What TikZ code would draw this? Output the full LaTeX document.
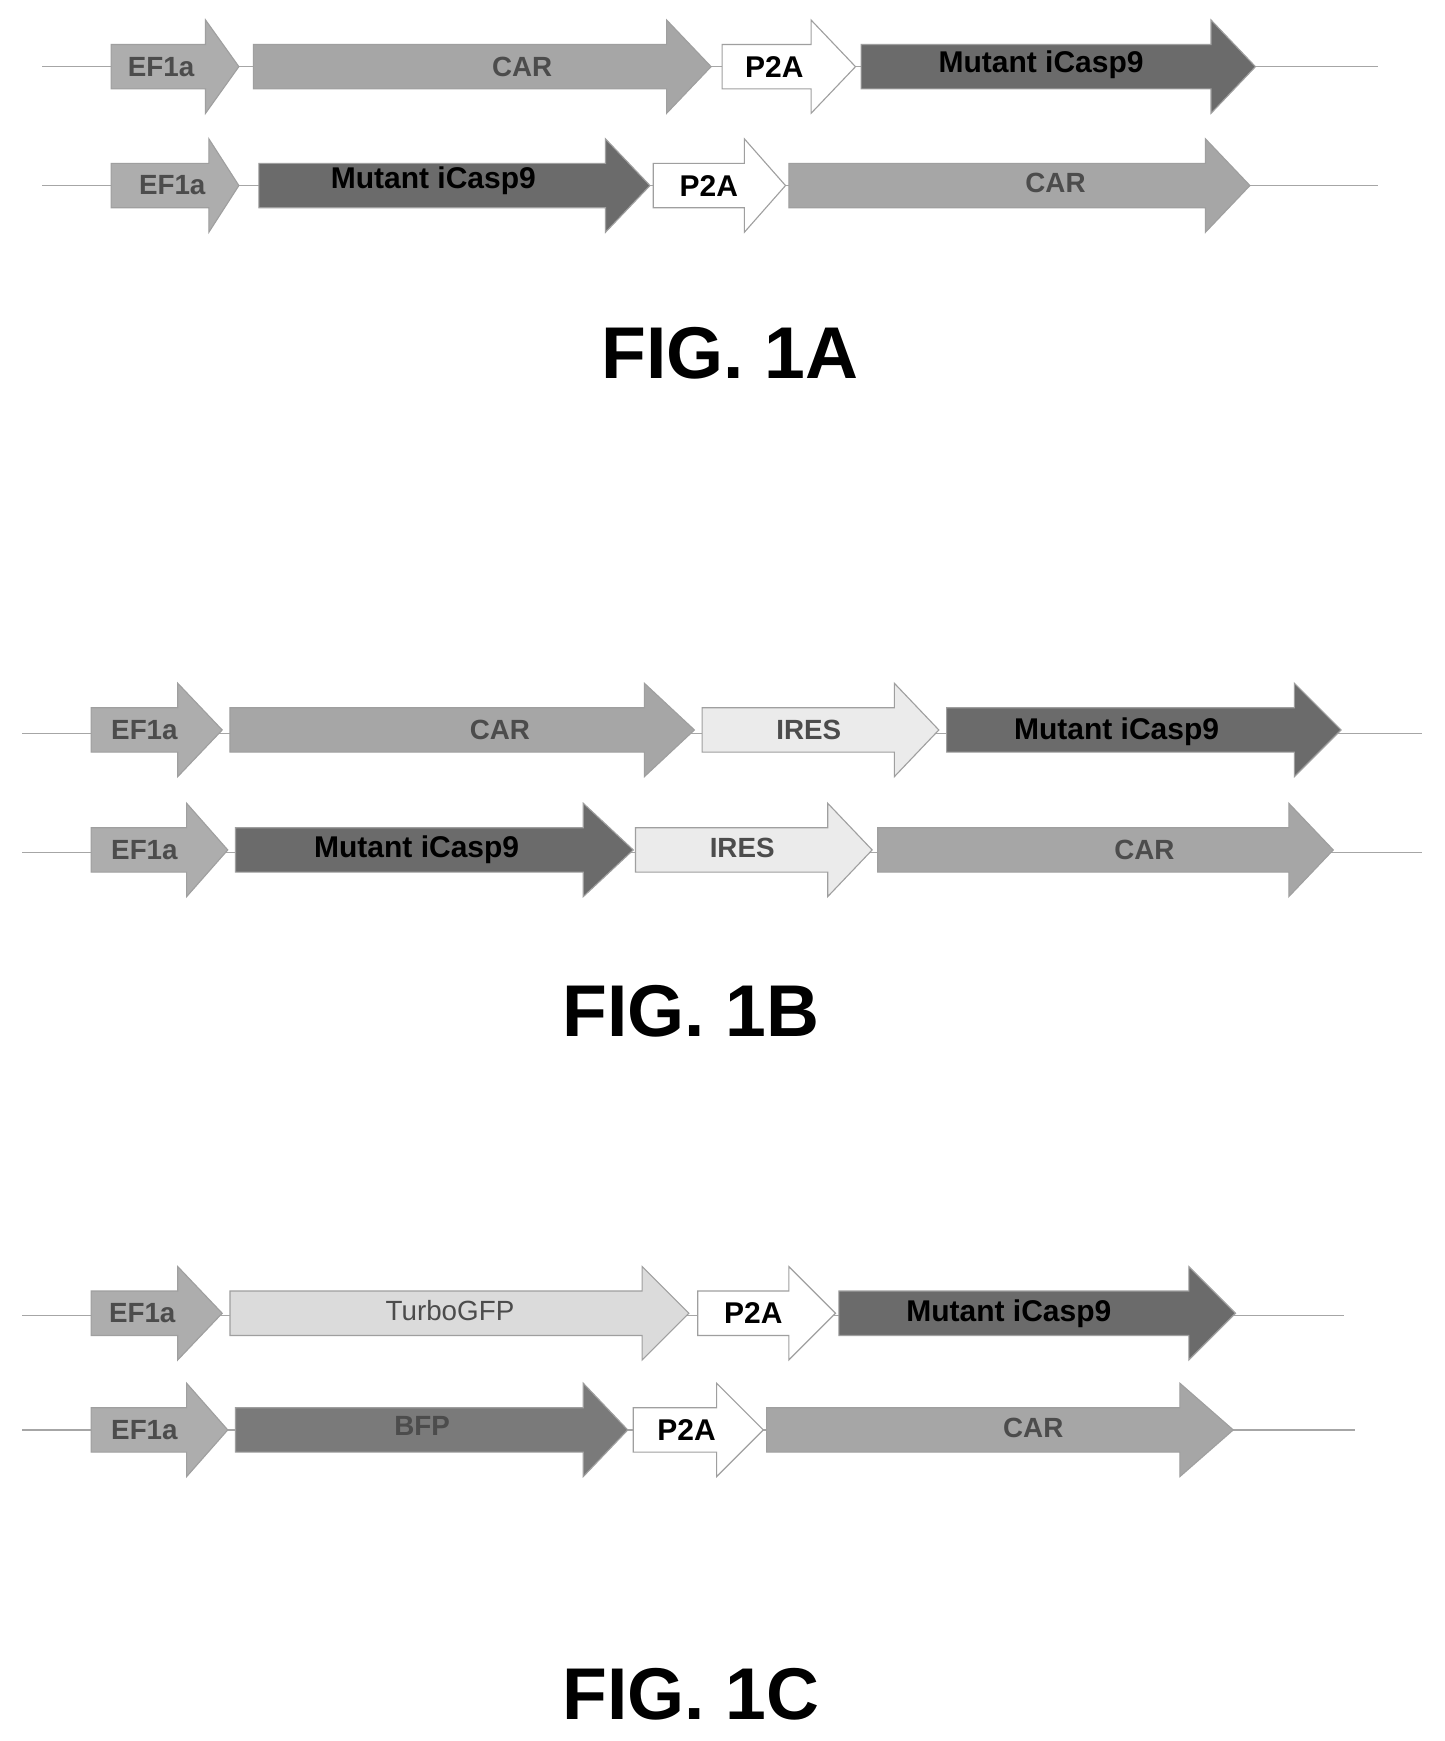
\documentclass[tikz,border=0pt]{standalone}
\usepackage{fontspec}
\setmainfont{Liberation Sans}
\begin{document}
\begin{tikzpicture}[x=1pt,y=-1pt,
  bb/.style={draw=gray!70,line width=1pt},
  lbl/.style={font=\bfseries\fontsize{25}{25}\selectfont,text=black!70},
  blbl/.style={font=\bfseries\fontsize{27}{27}\selectfont,text=black},
  fig/.style={font=\bfseries\fontsize{66}{66}\selectfont}]
\useasboundingbox (0,0) rectangle (1300,1567);
\fill[white] (0,0) rectangle (1300,1567);
\colorlet{ef}{black!32}\colorlet{car}{black!35}\colorlet{mut}{black!58}
\colorlet{ires}{black!8}\colorlet{gfp}{black!14}\colorlet{bfp}{black!52}
% #1 x1, #2 head start, #3 tip, #4 y, #5 fill, #6 name
\newcommand\garrow[6]{\filldraw[bb,draw=gray!75,fill=#5] (#1,#4-20) -- (#2,#4-20) -- (#2,#4-42) -- (#3,#4) -- (#2,#4+42) -- (#2,#4+20) -- (#1,#4+20) -- cycle;
\coordinate (#6) at (#1,#4);}
\newcommand\dline[4]{\coordinate (#3a) at (#1,#4);\coordinate (#3b) at (#2,#4);\draw[gray!70,line width=1.2pt] (#3a) -- (#3b);}
% 1A row 1
\dline{38}{1240}{l1}{60}
\garrow{100}{185}{215}{60}{ef}{a1}\garrow{228}{600}{640}{60}{car}{a2}
\garrow{650}{730}{770}{60}{white}{a3}\garrow{775}{1090}{1130}{60}{mut}{a4}
\node[lbl] (t1) at (145,60) {EF1a};\node[lbl] (t2) at (470,60) {CAR};
\node[blbl] (t3) at (697,60) {P2A};\node[blbl] (t4) at (937,58) {Mutant iCasp9};
% 1A row 2
\dline{38}{1240}{l2}{167}
\garrow{100}{188}{215}{167}{ef}{b1}\garrow{233}{545}{585}{167}{mut}{b2}
\garrow{588}{670}{707}{167}{white}{b3}\garrow{710}{1085}{1125}{167}{car}{b4}
\node[lbl] (u1) at (155,167) {EF1a};\node[blbl] (u2) at (390,163) {Mutant iCasp9};
\node[blbl] (u3) at (638,167) {P2A};\node[lbl] (u4) at (950,165) {CAR};
\node[fig] (f1) at (657,318) {FIG. 1A};
% 1B row 1
\dline{20}{1280}{l3}{660}
\garrow{82}{160}{200}{657}{ef}{c1}\garrow{207}{580}{625}{657}{car}{c2}
\garrow{632}{805}{845}{657}{ires}{c3}\garrow{852}{1165}{1207}{657}{mut}{c4}
\node[lbl] (v1) at (130,657) {EF1a};\node[lbl] (v2) at (450,657) {CAR};
\node[lbl] (v3) at (728,657) {IRES};\node[blbl] (v4) at (1005,659) {Mutant iCasp9};
% 1B row 2
\dline{20}{1280}{l4}{767}
\garrow{82}{168}{205}{765}{ef}{d1}\garrow{212}{525}{570}{765}{mut}{d2}
\garrow{572}{745}{785}{765}{ires}{d3}\garrow{790}{1160}{1200}{765}{car}{d4}
\node[lbl] (w1) at (130,765) {EF1a};\node[blbl] (w2) at (375,765) {Mutant iCasp9};
\node[lbl] (w3) at (668,763) {IRES};\node[lbl] (w4) at (1030,765) {CAR};
\node[fig] (f2) at (622,910) {FIG. 1B};
% 1C row 1
\dline{20}{1210}{l5}{1184}
\garrow{82}{160}{200}{1182}{ef}{e1}\garrow{207}{578}{620}{1182}{gfp}{e2}
\garrow{628}{710}{752}{1182}{white}{e3}\garrow{755}{1070}{1112}{1182}{mut}{e4}
\node[lbl] (x1) at (128,1182) {EF1a};\node[lbl,font=\fontsize{25}{25}\selectfont] (x2) at (405,1180) {TurboGFP};
\node[blbl] (x3) at (678,1182) {P2A};\node[blbl] (x4) at (908,1182) {Mutant iCasp9};
% 1C row 2
\dline{20}{1220}{l6}{1287}
\garrow{82}{168}{205}{1287}{ef}{g1}\garrow{212}{525}{565}{1287}{bfp}{g2}
\garrow{570}{645}{687}{1287}{white}{g3}\garrow{690}{1062}{1110}{1287}{car}{g4}
\node[lbl] (y1) at (130,1287) {EF1a};\node[lbl] (y2) at (380,1283) {BFP};
\node[blbl] (y3) at (618,1287) {P2A};\node[lbl] (y4) at (930,1285) {CAR};
\node[fig] (f3) at (622,1525) {FIG. 1C};
\end{tikzpicture}
\end{document}
